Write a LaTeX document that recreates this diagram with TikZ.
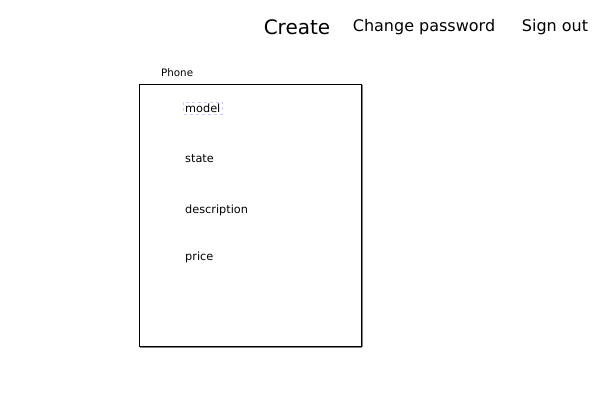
\documentclass[tikz,border=0pt]{standalone}
\usepackage{fontspec}
\setmainfont{DejaVu Sans}
\usetikzlibrary{positioning, calc, fit}
\tikzset {
    menu/.style = {inner sep = 0pt, anchor = base},
    field/.style = {inner sep = 0pt, anchor = base west, font = \fontsize{11.3}{13}\selectfont},
    selected/.style = {draw = blue!20, dashed, inner sep = 1.5pt},
    panel/.style = {draw, line width = 0.9pt},
    edge shade/.style = {draw = gray, line width = 1.2pt}
}
\begin{document}
\begin{tikzpicture}[x = 1pt, y = -1pt]
            \useasboundingbox (0, 0) rectangle (597, 408);
            \node (create) [menu, font = \fontsize{20}{24}\selectfont] at (297, 34) {Create};
            \node (passwd) [menu, font = \fontsize{16}{19}\selectfont] at (424, 31) {Change password};
            \node (signout) [menu, font = \fontsize{16}{19}\selectfont] at (555, 31) {Sign out};
            \node (title) [field, font = \fontsize{10.3}{12}\selectfont] at (161, 76) {Phone};
            \coordinate (nw) at (139, 84);
            \coordinate (se) at (361, 346);
            \draw [edge shade] ($(se |- nw) + (1.2, 1)$) -- ($(se) + (1.2, 1.2)$);
            \draw [edge shade] ($(nw |- se) + (1, 1.2)$) -- ($(se) + (1.2, 1.2)$);
            \draw [panel] (nw) rectangle (se);
            \node (model) [field] at (185, 112) {model};
            \node [selected, fit = (model)] {};
            \node (state) [field] at (185, 162) {state};
            \node (descr) [field] at (185, 213) {description};
            \node (price) [field] at (185, 260) {price};
        \end{tikzpicture}
\end{document}
